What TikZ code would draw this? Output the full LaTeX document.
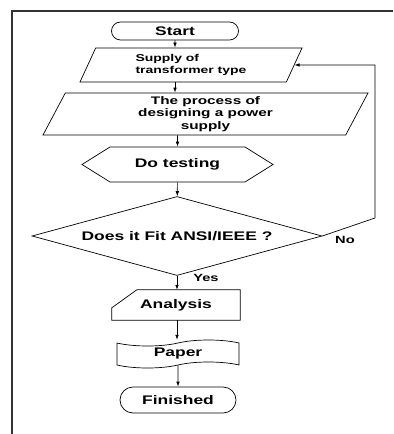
\documentclass[tikz,border=0pt]{standalone}
\usepackage{fontspec}
\setmainfont{Liberation Sans}[FakeStretch=1.4]
\usetikzlibrary{shapes.geometric,shapes.misc,shapes.symbols,arrows.meta,calc}

\tikzset{
  flow/.style={black,line width=0.7pt,-{Latex[length=5bp,width=3.6bp]}},
  box/.style={draw,black,line width=0.7pt,inner sep=1pt,font=\fontsize{12.5}{14}\selectfont\bfseries},
  terminal/.style={box,rounded rectangle},
  datain/.style={box,trapezium,trapezium stretches body},
  label/.style={font=\fontsize{10.5}{12}\selectfont\bfseries,inner sep=0pt}
}

\begin{document}
\begin{tikzpicture}[x=1bp,y=-1bp]
\useasboundingbox (0,0) rectangle (393,434);
\draw[black!80,line width=1.3bp] (393,11) -- (12,11) -- (12,434);

\node[terminal,minimum width=129bp,minimum height=18bp](start) at (175,31){Start};
\node[datain,trapezium left angle=56,trapezium right angle=124,minimum width=222bp,minimum height=34bp,
  align=left,font=\fontsize{10}{12}\selectfont\bfseries](supply) at (191,65){Supply of\\transformer type};
\node[datain,trapezium left angle=59,trapezium right angle=121,minimum width=325bp,minimum height=42bp,
  align=center,font=\fontsize{11}{12.5}\selectfont\bfseries](process) at (205.5,114){The process of\\designing a power\\supply};
\node[box,signal,signal to=west and east,signal pointer angle=64,minimum width=191bp,minimum height=35bp](testing) at (177.5,164.5){Do testing};
\node[box,diamond,aspect=3.67,minimum width=290bp,minimum height=79bp](fit) at (177,236){Does it Fit ANSI/IEEE ?};
\node[font=\fontsize{12.5}{14}\selectfont\bfseries,minimum width=128bp,minimum height=30bp,inner sep=0pt](analysis) at (176,305){Analysis};
\draw[black,line width=0.7pt] (analysis.south west) -- ($(analysis.north west)+(0,18)$) -- ($(analysis.north west)+(25,0)$)
  -- (analysis.north east) -- (analysis.south east) -- cycle;
\node[box,tape,tape bend height=6bp,minimum width=122bp,minimum height=28bp](paper) at (178,354){Paper};
\node[terminal,minimum width=118bp,minimum height=26bp](finished) at (178,400){Finished};
\coordinate (noturn) at (375,218);
\node[label](no) at (345,240){No};
\node[label](yes) at (206,278){Yes};

\draw[flow](start)--(start |- supply.north);
\draw[flow](start |- supply.south)--(start |- process.north);
\draw[flow](testing.north |- process.south)--(testing);
\draw[flow](testing)--(fit);
\draw[flow](fit)--(fit |- analysis.north);
\draw[flow](fit |- analysis.south)--($(fit |- paper.north)+(0,-3)$);
\draw[flow](paper)--(finished);
\draw[flow](fit.east)--(noturn)|-(supply.right side);
\end{tikzpicture}
\end{document}
